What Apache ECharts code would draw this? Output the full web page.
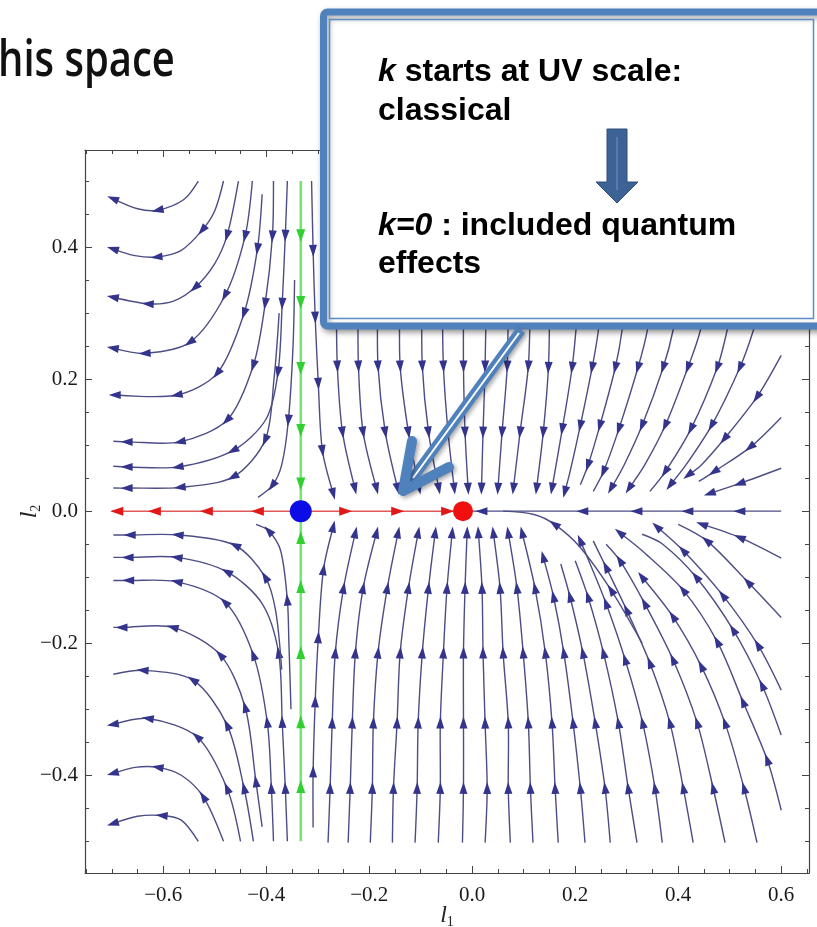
<!DOCTYPE html>
<html><head><meta charset="utf-8">
<script src="https://cdn.jsdelivr.net/npm/echarts@6/dist/echarts.min.js"></script>
<style>html,body{margin:0;padding:0;background:#fff;}#c{width:817px;height:927px;}</style>
</head><body><div id="c"></div>
<script>
// ---------- axis ticks ----------
const xMajor = [-0.6, -0.4, -0.2, 0, 0.2, 0.4, 0.6];
const xLabels = ['\u22120.6', '\u22120.4', '\u22120.2', '0.0', '0.2', '0.4', '0.6'];
const xMinor = [-0.75, -0.7, -0.65, -0.55, -0.5, -0.45, -0.35, -0.3, -0.25, -0.15, -0.1, -0.05, 0.05, 0.1, 0.15, 0.25, 0.3, 0.35, 0.45, 0.5, 0.55, 0.65];
const yMajor = [-0.4, -0.2, 0, 0.2, 0.4];
const yLabels = ['\u22120.4', '\u22120.2', '0.0', '0.2', '0.4'];
const yMinor = [-0.5, -0.45, -0.35, -0.3, -0.25, -0.15, -0.1, -0.05, 0.05, 0.1, 0.15, 0.25, 0.3, 0.35, 0.45, 0.5];

// ---------- fixed points ----------
const fixedPoints = [[-0.333, 0], [-0.018, 0]];

// ---------- special trajectories (third value 1 = arrowhead) ----------
const greenTop = [[-0.333,0.5],[-0.333,0.418,1],[-0.333,0.317,1],[-0.333,0.217,1],[-0.333,0.123,1],[-0.333,0.042,1],[-0.333,0.0]];
const greenBottom = [[-0.333,-0.5],[-0.333,-0.418,1],[-0.333,-0.32,1],[-0.333,-0.215,1],[-0.333,-0.115,1],[-0.333,-0.041,1],[-0.333,0.0]];
const redLeft = [[-0.333,0],[-0.416,0,1],[-0.515,0,1],[-0.616,0,1],[-0.689,0,1],[-0.70,0]];
const redRight = [[-0.333,0],[-0.247,0,1],[-0.146,0,1],[-0.049,0,1],[-0.018,0]];
const axisRight = [[0.6,0],[0.52,0,1],[0.419,0,1],[0.32,0,1],[0.215,0,1],[0.12,0],[0.019,0,1],[-0.005,0]];

// ---------- upper-left streamlines ----------
const streamsUL = [
 [[-0.532,0.50],[-0.56,0.472],[-0.61,0.456,1],[-0.65,0.458],[-0.697,0.473,1]],
 [[-0.483,0.50],[-0.50,0.455],[-0.524,0.426,1],[-0.565,0.395],[-0.612,0.385,1],[-0.655,0.387],[-0.697,0.397,1]],
 [[-0.454,0.50],[-0.476,0.418,1],[-0.50,0.375],[-0.538,0.339,1],[-0.58,0.318],[-0.629,0.314,1],[-0.697,0.324,1]],
 [[-0.427,0.50],[-0.441,0.417,1],[-0.480,0.327,1],[-0.548,0.256,1],[-0.635,0.239,1],[-0.697,0.247,1]],
 [[-0.408,0.48],[-0.417,0.398,1],[-0.443,0.300,1],[-0.495,0.209,1],[-0.573,0.176,1],[-0.693,0.176,1]],
 [[-0.386,0.50],[-0.388,0.417,1],[-0.402,0.315,1],[-0.425,0.221,1],[-0.476,0.138,1],[-0.567,0.105,1],[-0.67,0.105,1],[-0.697,0.106]],
 [[-0.359,0.50],[-0.363,0.418,1],[-0.369,0.315,1],[-0.377,0.211,1],[-0.40,0.14],[-0.464,0.092,1],[-0.571,0.067,1],[-0.67,0.067,1],[-0.697,0.068]],
 [[-0.375,0.30],[-0.385,0.20],[-0.402,0.108,1],[-0.464,0.052,1],[-0.567,0.036,1],[-0.670,0.035,1],[-0.697,0.035]],
 [[-0.345,0.35],[-0.348,0.25],[-0.357,0.138,1],[-0.37,0.07],[-0.388,0.039,1],[-0.416,0.021]]
];

// ---------- upper-middle streamlines ----------
const streamsUM = [
 [[-0.312,0.5],[-0.309,0.395,1],[-0.305,0.294,1],[-0.299,0.194,1],[-0.291,0.092,1],[-0.27,0.027,1]],
 [[-0.268,0.5],[-0.266,0.42,1],[-0.264,0.32,1],[-0.262,0.22,1],[-0.252,0.12,1],[-0.228,0.035,1]],
 [[-0.226,0.5],[-0.224,0.42,1],[-0.222,0.32,1],[-0.221,0.22,1],[-0.212,0.12,1],[-0.186,0.035,1]],
 [[-0.187,0.5],[-0.186,0.42,1],[-0.184,0.32,1],[-0.183,0.22,1],[-0.169,0.12,1],[-0.145,0.035,1]],
 [[-0.145,0.5],[-0.143,0.42,1],[-0.141,0.32,1],[-0.140,0.22,1],[-0.124,0.12,1],[-0.103,0.035,1]],
 [[-0.102,0.5],[-0.100,0.42,1],[-0.098,0.32,1],[-0.097,0.22,1],[-0.085,0.12,1],[-0.065,0.035,1]],
 [[-0.060,0.5],[-0.059,0.42,1],[-0.058,0.32,1],[-0.056,0.22,1],[-0.047,0.12,1],[-0.035,0.035,1]],
 [[-0.018,0.5],[-0.018,0.42,1],[-0.017,0.32,1],[-0.017,0.22,1],[-0.014,0.12,1],[-0.008,0.035,1]],
 [[0.030,0.5],[0.028,0.42,1],[0.027,0.32,1],[0.025,0.22,1],[0.021,0.12,1],[0.018,0.035,1]],
 [[0.076,0.5],[0.073,0.42,1],[0.070,0.32,1],[0.068,0.22,1],[0.058,0.12,1],[0.050,0.035,1]],
 [[0.122,0.5],[0.118,0.42,1],[0.113,0.32,1],[0.109,0.22,1],[0.093,0.12,1],[0.080,0.035,1]]
];

// ---------- upper-right streamlines ----------
const streamsUR = [
 [[0.165,0.5],[0.157,0.42,1],[0.151,0.32,1],[0.148,0.218,1],[0.138,0.12,1],[0.125,0.035,1]],
 [[0.225,0.5],[0.213,0.42,1],[0.204,0.30],[0.194,0.218,1],[0.175,0.125,1],[0.155,0.035,1]],
 [[0.28,0.5],[0.262,0.40,1],[0.245,0.274],[0.233,0.218,1],[0.21,0.13,1],[0.19,0.06],[0.18,0.03,1]],
 [[0.335,0.5],[0.31,0.40,1],[0.291,0.274],[0.278,0.218,1],[0.248,0.13,1],[0.225,0.07,1],[0.21,0.04]],
 [[0.395,0.5],[0.362,0.39,1],[0.34,0.274],[0.322,0.218,1],[0.285,0.125,1],[0.255,0.06,1],[0.235,0.03]],
 [[0.455,0.5],[0.415,0.39,1],[0.39,0.274],[0.371,0.218,1],[0.33,0.13,1],[0.295,0.07],[0.27,0.035,1]],
 [[0.515,0.5],[0.47,0.39,1],[0.443,0.274],[0.419,0.218,1],[0.375,0.13,1],[0.335,0.07],[0.305,0.035,1]],
 [[0.575,0.5],[0.525,0.39,1],[0.495,0.274],[0.476,0.218,1],[0.425,0.125,1],[0.375,0.06,1],[0.345,0.03]],
 [[0.6,0.43],[0.565,0.33,1],[0.546,0.274],[0.52,0.218,1],[0.465,0.13,1],[0.415,0.07],[0.385,0.04,1]],
 [[0.6,0.236],[0.553,0.173,1],[0.49,0.11,1],[0.445,0.07],[0.42,0.055,1]],
 [[0.6,0.142],[0.54,0.097,1],[0.47,0.06,1],[0.44,0.045]],
 [[0.6,0.065],[0.52,0.042,1],[0.462,0.027,1]]
];

// ---------- lower-left streamlines ----------
const streamsLL = [
 [[-0.532,-0.50],[-0.565,-0.468],[-0.602,-0.461,1],[-0.65,-0.462],[-0.697,-0.473,1]],
 [[-0.483,-0.50],[-0.522,-0.433,1],[-0.565,-0.40],[-0.61,-0.388,1],[-0.655,-0.388],[-0.697,-0.397,1]],
 [[-0.450,-0.50],[-0.476,-0.42,1],[-0.534,-0.342,1],[-0.629,-0.314,1],[-0.697,-0.323,1]],
 [[-0.425,-0.50],[-0.443,-0.42,1],[-0.476,-0.324,1],[-0.542,-0.256,1],[-0.639,-0.241,1],[-0.697,-0.247]],
 [[-0.408,-0.478],[-0.42,-0.41,1],[-0.441,-0.297,1],[-0.489,-0.218,1],[-0.581,-0.176,1],[-0.680,-0.176,1],[-0.697,-0.176]],
 [[-0.386,-0.50],[-0.39,-0.42,1],[-0.398,-0.32,1],[-0.425,-0.218,1],[-0.480,-0.138,1],[-0.573,-0.107,1],[-0.667,-0.105,1],[-0.697,-0.105]],
 [[-0.359,-0.50],[-0.363,-0.42,1],[-0.369,-0.32,1],[-0.376,-0.215,1],[-0.408,-0.14],[-0.476,-0.092,1],[-0.573,-0.07,1],[-0.668,-0.07,1],[-0.697,-0.07]],
 [[-0.37,-0.24],[-0.382,-0.15],[-0.402,-0.10,1],[-0.46,-0.052,1],[-0.571,-0.036,1],[-0.664,-0.036,1],[-0.697,-0.036]],
 [[-0.352,-0.30],[-0.356,-0.2],[-0.359,-0.135,1],[-0.372,-0.06],[-0.395,-0.03,1],[-0.42,-0.02]]
];

// ---------- lower-middle streamlines ----------
const streamsLM = [
 [[-0.309,-0.479],[-0.309,-0.395,1],[-0.305,-0.289,1],[-0.299,-0.192,1],[-0.289,-0.089,1],[-0.270,-0.024,1]],
 [[-0.280,-0.502],[-0.276,-0.42,1],[-0.272,-0.321,1],[-0.266,-0.215,1],[-0.250,-0.117,1],[-0.227,-0.033,1]],
 [[-0.241,-0.502],[-0.237,-0.42,1],[-0.233,-0.321,1],[-0.227,-0.215,1],[-0.212,-0.117,1],[-0.186,-0.033,1]],
 [[-0.198,-0.502],[-0.194,-0.42,1],[-0.192,-0.321,1],[-0.183,-0.215,1],[-0.165,-0.117,1],[-0.144,-0.033,1]],
 [[-0.155,-0.502],[-0.153,-0.42,1],[-0.146,-0.321,1],[-0.140,-0.215,1],[-0.124,-0.117,1],[-0.105,-0.033,1]],
 [[-0.111,-0.502],[-0.107,-0.42,1],[-0.105,-0.321,1],[-0.097,-0.215,1],[-0.085,-0.117,1],[-0.072,-0.033,1]],
 [[-0.066,-0.502],[-0.062,-0.42,1],[-0.062,-0.321,1],[-0.056,-0.215,1],[-0.049,-0.117,1],[-0.039,-0.033,1]],
 [[-0.019,-0.502],[-0.017,-0.42,1],[-0.017,-0.321,1],[-0.017,-0.215,1],[-0.014,-0.117,1],[-0.010,-0.033,1]],
 [[0.025,-0.502],[0.029,-0.42,1],[0.025,-0.321,1],[0.021,-0.215,1],[0.019,-0.117,1],[0.012,-0.033,1]],
 [[0.074,-0.502],[0.070,-0.42,1],[0.070,-0.321,1],[0.060,-0.215,1],[0.054,-0.117,1],[0.041,-0.033,1]],
 [[0.118,-0.502],[0.113,-0.42,1],[0.109,-0.321,1],[0.099,-0.215,1],[0.087,-0.117,1],[0.070,-0.033,1]],
 [[0.167,-0.502],[0.161,-0.42,1],[0.155,-0.321,1],[0.142,-0.215,1],[0.122,-0.117,1],[0.097,-0.033,1]]
];

// ---------- lower-right streamlines ----------
const streamsLR = [
 [[0.219,-0.502],[0.210,-0.42,1],[0.196,-0.321,1],[0.178,-0.215,1],[0.158,-0.13,1],[0.138,-0.07,1]],
 [[0.268,-0.502],[0.258,-0.42,1],[0.239,-0.321,1],[0.215,-0.215,1],[0.19,-0.13,1],[0.172,-0.08]],
 [[0.320,-0.502],[0.303,-0.42,1],[0.284,-0.321,1],[0.255,-0.215,1],[0.225,-0.13,1],[0.2,-0.075]],
 [[0.369,-0.502],[0.355,-0.42,1],[0.331,-0.321,1],[0.297,-0.225,1],[0.26,-0.14,1],[0.229,-0.08],[0.21,-0.045,1]],
 [[0.429,-0.502],[0.410,-0.42,1],[0.384,-0.321,1],[0.345,-0.23,1],[0.30,-0.15,1],[0.26,-0.085,1],[0.235,-0.045]],
 [[0.491,-0.502],[0.468,-0.42,1],[0.437,-0.321,1],[0.39,-0.225,1],[0.335,-0.14,1],[0.287,-0.075,1],[0.26,-0.05]],
 [[0.553,-0.502],[0.528,-0.42,1],[0.491,-0.321,1],[0.445,-0.235,1],[0.39,-0.16,1],[0.33,-0.10,1]],
 [[0.6,-0.453],[0.573,-0.377,1],[0.526,-0.289,1],[0.476,-0.198,1],[0.41,-0.12,1],[0.33,-0.06],[0.287,-0.033,1]],
 [[0.6,-0.339],[0.563,-0.264,1],[0.507,-0.18,1],[0.435,-0.10,1],[0.37,-0.05],[0.33,-0.035]],
 [[0.6,-0.271],[0.555,-0.203,1],[0.487,-0.128,1],[0.41,-0.06,1],[0.359,-0.024,1]],
 [[0.6,-0.161],[0.536,-0.108,1],[0.456,-0.045,1],[0.40,-0.02]],
 [[0.6,-0.071],[0.52,-0.04,1],[0.447,-0.02,1]],
 [[0.33,-0.2],[0.27,-0.12,1],[0.21,-0.055],[0.16,-0.02,1],[0.12,-0.005],[0.06,0]]
];

const NAVY_LINE = '#4d4d86', NAVY_HEAD = '#34348c';

function streamSeries(name, list, lineColor, headColor, lw, hl, hw, z) {
  return {
    name, type: 'custom', coordinateSystem: 'cartesian2d', xAxisIndex: 0, yAxisIndex: 0,
    silent: true, animation: false, clip: true, z: z || 3,
    data: list.map((s, i) => [s[0][0], s[0][1], i]),
    encode: { x: 0, y: 1 },
    renderItem: function (params, api) {
      const s = list[params.dataIndex];
      const pts = s.map(p => api.coord([p[0], p[1]]));
      const children = [{
        type: 'polyline', shape: { points: pts, smooth: 0.3 },
        style: { stroke: lineColor, lineWidth: lw, fill: null }
      }];
      for (let i = 1; i < s.length; i++) {
        if (!s[i][2]) continue;
        const c = pts[i];
        const p0 = pts[i - 1];
        const p1 = i + 1 < pts.length ? pts[i + 1] : pts[i];
        let dx = p1[0] - p0[0], dy = p1[1] - p0[1];
        const d = Math.hypot(dx, dy) || 1; dx /= d; dy /= d;
        const nx = -dy, ny = dx;
        const tip = [c[0] + dx * hl * 0.55, c[1] + dy * hl * 0.55];
        const bx = c[0] - dx * hl * 0.45, by = c[1] - dy * hl * 0.45;
        children.push({
          type: 'polygon',
          shape: { points: [tip, [bx + nx * hw / 2, by + ny * hw / 2], [bx - nx * hw / 2, by - ny * hw / 2]] },
          style: { fill: headColor }
        });
      }
      return { type: 'group', children };
    }
  };
}

const X_MIN = -0.752, X_MAX = 0.654, Y_MIN = -0.548, Y_MAX = 0.547;
const frameColor = '#444444';
const serif = 'Liberation Serif';

function xAx(pos, vals, len, showLine, labels) {
  return {
    type: 'value', position: pos, min: X_MIN, max: X_MAX,
    axisLine: { show: showLine, onZero: false, lineStyle: { color: frameColor, width: 1.2 } },
    axisTick: { show: true, inside: true, length: len, customValues: vals, lineStyle: { color: frameColor, width: 1 } },
    axisLabel: labels ? {
      show: true, customValues: vals, margin: 12, color: '#1a1a1a', fontFamily: serif, fontSize: 21,
      formatter: v => labels[vals.findIndex(t => Math.abs(t - v) < 1e-9)]
    } : { show: false },
    splitLine: { show: false }
  };
}
function yAx(pos, vals, len, showLine, labels) {
  return {
    type: 'value', position: pos, min: Y_MIN, max: Y_MAX,
    axisLine: { show: showLine, onZero: false, lineStyle: { color: frameColor, width: 1.2 } },
    axisTick: { show: true, inside: true, length: len, customValues: vals, lineStyle: { color: frameColor, width: 1 } },
    axisLabel: labels ? {
      show: true, customValues: vals, margin: 7, color: '#1a1a1a', fontFamily: serif, fontSize: 21,
      formatter: v => labels[vals.findIndex(t => Math.abs(t - v) < 1e-9)]
    } : { show: false },
    splitLine: { show: false }
  };
}

const nameRich = { i: { fontFamily: serif, fontStyle: 'italic', fontSize: 24, color: '#222' }, s: { fontFamily: serif, fontSize: 14, color: '#222', verticalAlign: 'bottom', padding: [12, 0, 0, 0] } };
const xAxes = [xAx('bottom', xMajor, 7, true, xLabels), xAx('bottom', xMinor, 4, false), xAx('top', xMajor, 7, true), xAx('top', xMinor, 4, false)];
xAxes[0].name = '{i|l}{s|1}';
xAxes[0].nameLocation = 'middle';
xAxes[0].nameGap = 30;
xAxes[0].nameMoveOverlap = false;
xAxes[0].nameTextStyle = { rich: nameRich };
const yAxes = [yAx('left', yMajor, 7, true, yLabels), yAx('left', yMinor, 4, false), yAx('right', yMajor, 7, true), yAx('right', yMinor, 4, false)];
yAxes[0].name = '{i|l}{s|2}';
yAxes[0].nameLocation = 'middle';
yAxes[0].nameGap = 42;
yAxes[0].nameRotate = 90;
yAxes[0].nameMoveOverlap = false;
yAxes[0].nameTextStyle = { rich: nameRich };

const allNavy = [].concat(streamsUL, streamsUM, streamsUR, streamsLL, streamsLM, streamsLR, [axisRight]);

const chart = echarts.init(document.getElementById('c'), null, { renderer: 'canvas' });
chart.setOption({
  animation: false,
  backgroundColor: '#ffffff',
  grid: { left: 85, right: 8, top: 150, bottom: 54, show: true, borderWidth: 0, backgroundColor: '#ffffff', containLabel: false, outerBoundsMode: 'none' },
  xAxis: xAxes,
  yAxis: yAxes,
  series: [
    streamSeries('flow', allNavy, NAVY_LINE, NAVY_HEAD, 1.4, 12, 8, 3),
    streamSeries('green', [greenTop, greenBottom], '#72ea72', '#2fd02f', 2.6, 13, 9, 4),
    streamSeries('red', [redLeft, redRight], '#e25858', '#e01818', 1.5, 13, 9, 4),
    {
      type: 'scatter', xAxisIndex: 0, yAxisIndex: 0, z: 6, silent: true, animation: false,
      data: [
        { value: fixedPoints[0], symbolSize: 22, itemStyle: { color: '#0c0ce6', opacity: 1 } },
        { value: fixedPoints[1], symbolSize: 20, itemStyle: { color: '#f01010', opacity: 1 } }
      ]
    }
  ],
  graphic: [
    { type: 'text', z: 50, left: -2, top: 37, style: { text: 'his space', font: '600 50px "Open Sans"', fill: '#111' }, scaleX: 0.8 },
    // callout box
    { type: 'rect', z: 50, shape: { x: 323.5, y: 12, width: 520, height: 314, r: 4 },
      style: { fill: '#ffffff', stroke: '#4f81bd', lineWidth: 7, shadowBlur: 6, shadowOffsetX: 2, shadowOffsetY: 3, shadowColor: 'rgba(0,0,0,0.35)' } },
    { type: 'rect', z: 51, shape: { x: 329.5, y: 19.5, width: 484, height: 299 },
      style: { fill: null, stroke: '#5b8ac4', lineWidth: 1.5 } },
    { type: 'text', z: 52, x: 378, y: 72, style: { text: '{i|k} starts at UV scale:', fill: '#000', font: 'bold 32px "Liberation Sans"', verticalAlign: 'middle',
        rich: { i: { fontStyle: 'italic', fontWeight: 'bold', fontSize: 32, fontFamily: 'Liberation Sans' } } } },
    { type: 'text', z: 52, x: 378, y: 111, style: { text: 'classical', fill: '#000', font: 'bold 32px "Liberation Sans"', verticalAlign: 'middle' } },
    { type: 'text', z: 52, x: 378, y: 226, style: { text: '{i|k=0} : included quantum', fill: '#000', font: 'bold 32px "Liberation Sans"', verticalAlign: 'middle',
        rich: { i: { fontStyle: 'italic', fontWeight: 'bold', fontSize: 32, fontFamily: 'Liberation Sans' } } } },
    { type: 'text', z: 52, x: 378, y: 264, style: { text: 'effects', fill: '#000', font: 'bold 32px "Liberation Sans"', verticalAlign: 'middle' } },
    // small down arrow in box
    { type: 'polygon', z: 52, shape: { points: [[607,129],[627,129],[627,182],[638,182],[617,203],[596,182],[607,182]] },
      style: { fill: '#3d6294', stroke: '#2f4f7f', lineWidth: 1 } },
    { type: 'line', z: 53, shape: { x1: 617, y1: 137, x2: 617, y2: 190 }, style: { stroke: '#6f95c8', lineWidth: 1 } },
    // big diagonal pointer arrow
    { type: 'line', z: 54, shape: { x1: 521, y1: 330, x2: 407, y2: 486 },
      style: { stroke: '#4f81bd', lineWidth: 10, shadowBlur: 4, shadowOffsetX: 2, shadowOffsetY: 2, shadowColor: 'rgba(0,0,0,0.35)' } },
    { type: 'line', z: 55, shape: { x1: 519, y1: 333, x2: 413, y2: 478 }, style: { stroke: '#ffffff', lineWidth: 2 } },
    { type: 'polyline', z: 55, shape: { points: [[412,441],[403,491],[449,467]] },
      style: { stroke: '#4f81bd', lineWidth: 10, lineCap: 'round', lineJoin: 'round', fill: null, shadowBlur: 4, shadowOffsetX: 2, shadowOffsetY: 2, shadowColor: 'rgba(0,0,0,0.35)' } }
  ]
});
</script></body></html>
